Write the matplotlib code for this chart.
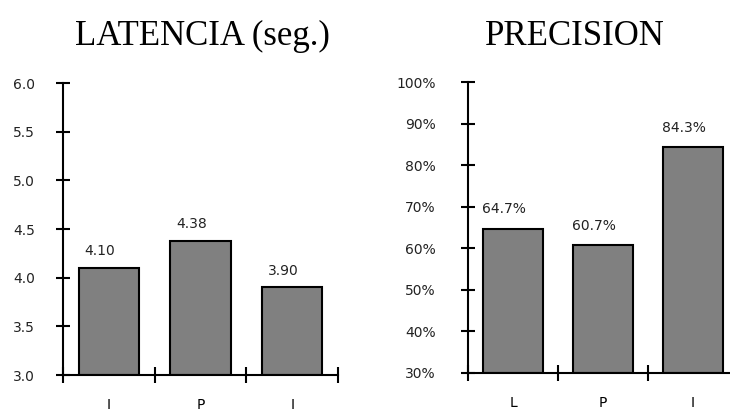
import matplotlib
matplotlib.use('Agg')
import matplotlib.pyplot as plt
from matplotlib.ticker import FixedLocator

# datos
lat_cats = ['I', 'P', 'I']
lat_vals = [4.10, 4.38, 3.90]
lat_labels = ['4.10', '4.38', '3.90']
lat_ticks = [3.0, 3.5, 4.0, 4.5, 5.0, 5.5, 6.0]

prec_cats = ['L', 'P', 'I']
prec_vals = [64.7, 60.7, 84.3]
prec_labels = ['64.7%', '60.7%', '84.3%']
prec_ticks = [30, 40, 50, 60, 70, 80, 90, 100]

fig = plt.figure(figsize=(7.3, 4.12), dpi=100)
ax1 = fig.add_axes([0.0863, 0.0898, 0.3767, 0.7087])
ax2 = fig.add_axes([0.6411, 0.0947, 0.370, 0.706])


def draw(ax, cats, vals, labels, yticks, ylim, ypad, fmt, dy):
    x = range(len(cats))
    ax.bar(x, [v - ylim[0] for v in vals], bottom=ylim[0], width=0.66,
           color='#808080', edgecolor='black', linewidth=1.5, zorder=2)
    for xi, v, lb in zip(x, vals, labels):
        ax.text(xi - 0.1, v + dy, lb, ha='center', va='bottom', fontsize=10,
                color='#222222')
    ax.set_xlim(-0.5, len(cats) - 0.5)
    ax.set_ylim(*ylim)
    ax.set_yticks(yticks)
    ax.set_yticklabels([fmt(t) for t in yticks])
    ax.xaxis.set_major_locator(FixedLocator([i - 0.5 for i in range(len(cats) + 1)]))
    ax.xaxis.set_major_formatter(plt.NullFormatter())
    ax.xaxis.set_minor_locator(FixedLocator(list(x)))
    ax.set_xticklabels(cats, minor=True)
    ax.tick_params(axis='x', which='major', direction='inout', length=11, width=1.5)
    ax.tick_params(axis='x', which='minor', length=0, pad=16.5, labelsize=10)
    ax.tick_params(axis='y', direction='inout', length=9.5, width=1.5, pad=ypad,
                   labelsize=10, labelcolor='#222222')
    for s in ['top', 'right']:
        ax.spines[s].set_visible(False)
    for s in ['left', 'bottom']:
        ax.spines[s].set_linewidth(1.5)
    ax.patch.set_visible(False)
    for sp in ax.spines.values():
        sp.set_clip_on(False)


draw(ax1, lat_cats, lat_vals, lat_labels, lat_ticks, (3.0, 6.0), 15.5,
     lambda t: f'{t:.1f}', 0.1)
draw(ax2, prec_cats, prec_vals, prec_labels, prec_ticks, (30, 100), 18.5,
     lambda t: f'{t:d}%', 3.0)

fig.text(0.277, 0.891, 'LATENCIA (seg.)', ha='center', va='baseline',
         fontsize=25, family='Liberation Serif')
fig.text(0.788, 0.891, 'PRECISION', ha='center', va='baseline',
         fontsize=25, family='Liberation Serif')

fig.savefig('out.png', dpi=100)
